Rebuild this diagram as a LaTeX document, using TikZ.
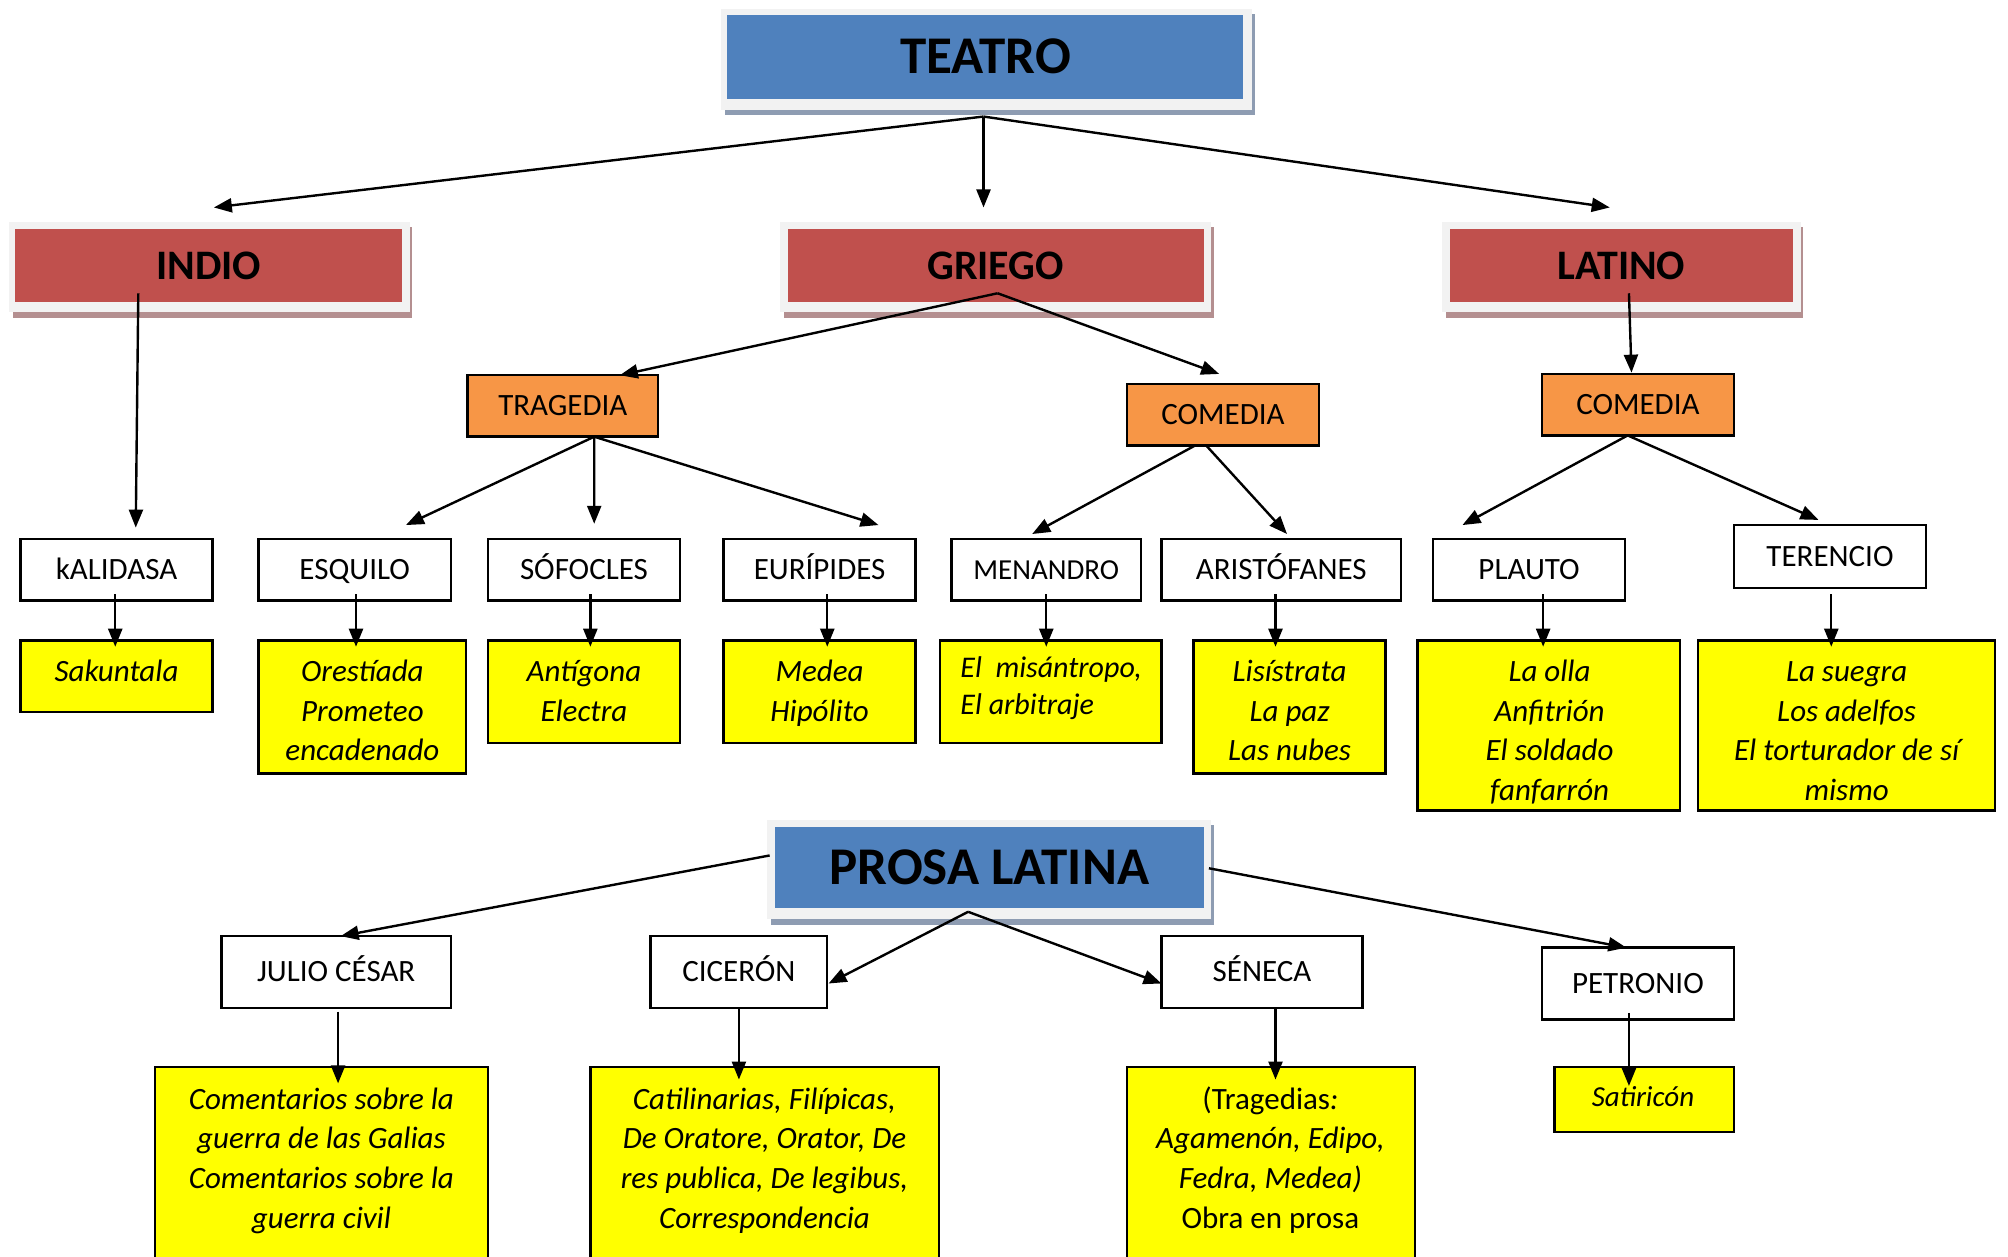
\documentclass[tikz,border=0pt]{standalone}
\usepackage{fontspec}
\setmainfont{Carlito}
\usetikzlibrary{arrows.meta,calc}
\definecolor{hblue}{HTML}{4F81BD}
\definecolor{hred}{HTML}{C0504D}
\definecolor{horange}{HTML}{F79646}
\definecolor{hyellow}{HTML}{FFFF00}
\definecolor{hframe}{HTML}{F2F2F2}
\definecolor{shblue}{HTML}{8E9CB2}
\definecolor{shred}{HTML}{B48F90}
\newcommand\topstrut{\rule{0pt}{30pt}}
% box: #1 style, #2 name, #3 x1, #4 y1, #5 x2, #6 y2, #7 text
\newcommand\bx[7]{\node[#1,minimum width={(#5-#3)*1.2806pt},minimum height={(#6-#4)*1.2806pt}] (#2) at ({(#3+#5)/2},{(#4+#6)/2}) {#7};}
% #1 from node, #2 to node, #3 dx, #4 dy at start, #5 dy at end, #6 coordinate name
\newcommand\downarr[6]{%
  \path ($(#1.south)+(#3,#4)$) coordinate (#6s);
  \path (#6s |- #2.north) coordinate (#6n);
  \draw[arr] (#6s) -- ($(#6n)+(0,#5)$);}
\begin{document}
\begin{tikzpicture}[x=1.2806pt,y=-1.2806pt,
  every node/.style={inner sep=0pt,outer sep=0pt},
  arr/.style={line width=2.4pt,-{Triangle[length=18pt,width=14pt]}},
  wbox/.style={draw=black,line width=2.4pt,fill=white,font=\fontsize{31}{38}\selectfont,text height=20pt,text depth=0pt},
  obox/.style={wbox,fill=horange},
  ybox/.style={draw=black,line width=2.4pt,fill=hyellow},
  ytext/.style={align=center,anchor=north,font=\fontsize{31}{39.7}\itshape\selectfont},
  hbox/.style={fill=#1,font=\fontsize{42}{50}\bfseries\selectfont,text height=27pt,text depth=0pt},
  tbox/.style={fill=hblue,font=\fontsize{53}{60}\bfseries\selectfont,text height=34pt,text depth=0pt}]
\useasboundingbox (0,0) rectangle (1568,981);
\fill[white] (0,0) rectangle (1568,981);
\begin{scope}
\clip (0,0) rectangle (1568,981);
% headline frames
\fill[shblue] (566,11) rectangle (980,90);
\fill[hframe] (563,7) rectangle (978,86);
\bx{tbox}{teatro}{568}{12}{971}{77}{TEATRO}
\fill[shred] (10,177) rectangle (322,248);
\fill[hframe] (7,173) rectangle (320,244);
\bx{hbox=hred}{indio}{12}{179}{314}{236}{INDIO}
\fill[shred] (612,177) rectangle (948,248);
\fill[hframe] (609,173) rectangle (946,244);
\bx{hbox=hred}{griego}{615}{179}{940}{236}{GRIEGO}
\fill[shred] (1129,177) rectangle (1408,248);
\fill[hframe] (1126,173) rectangle (1406,244);
\bx{hbox=hred}{latino}{1132}{179}{1400}{236}{LATINO}
\fill[shblue] (602,644) rectangle (948,722);
\fill[hframe] (599,640) rectangle (946,718);
\bx{tbox}{prosa}{605}{646}{940}{709}{PROSA LATINA}
% orange
\bx{obox}{trag}{365}{293}{514}{341}{TRAGEDIA}
\bx{obox}{comg}{880}{300}{1030}{348}{COMEDIA}
\bx{obox}{coml}{1204}{292}{1354}{340}{COMEDIA}
% white
\bx{wbox}{kal}{16}{421}{166}{469}{kALIDASA}
\bx{wbox}{esq}{202}{421}{352}{469}{ESQUILO}
\bx{wbox}{sof}{381}{421}{531}{469}{SÓFOCLES}
\bx{wbox}{eur}{565}{421}{715}{469}{EURÍPIDES}
\bx{wbox,font=\fontsize{29}{36}\selectfont}{men}{743}{421}{891}{469}{MENANDRO}
\bx{wbox}{ari}{907}{421}{1094}{469}{ARISTÓFANES}
\bx{wbox}{pla}{1119}{421}{1269}{469}{PLAUTO}
\bx{wbox}{ter}{1354}{410}{1504}{459}{TERENCIO}
% yellow row 1
\bx{ybox}{ysak}{16}{500}{166}{556}{}
\bx{ybox}{yesq}{202}{500}{364}{604}{}
\bx{ybox}{ysof}{381}{500}{531}{580}{}
\bx{ybox}{yeur}{565}{500}{715}{580}{}
\bx{ybox}{ymen}{734}{500}{907}{580}{}
\bx{ybox}{yari}{932}{500}{1082}{604}{}
\bx{ybox}{ypla}{1107}{500}{1312}{633}{}
\bx{ybox}{yter}{1326}{500}{1558}{633}{}
\node[ytext] (tsak) at (91,508.6) {\topstrut Sakuntala};
\node[ytext] (tesq) at (283,508.6) {\topstrut Orestíada\\Prometeo\\encadenado};
\node[ytext] (tsof) at (456,508.6) {\topstrut Antígona\\Electra};
\node[ytext] (teur) at (640,508.6) {\topstrut Medea\\Hipólito};
\node[ytext,align=left,anchor=north west,font=\fontsize{30}{37.1}\itshape\selectfont] (tmen) at (750,505.9) {\topstrut El\ \ misántropo,\\El arbitraje};
\node[ytext] (tari) at (1007,508.6) {\topstrut Lisístrata\\La paz\\Las nubes};
\node[ytext] (tpla) at (1210,508.6) {\topstrut La olla\\Anfitrión\\El soldado\\fanfarrón};
\node[ytext] (tter) at (1442,508.6) {\topstrut La suegra\\Los adelfos\\El torturador de sí\\mismo};
% bottom
\bx{wbox}{jul}{173}{731}{352}{787}{JULIO CÉSAR}
\bx{wbox}{cic}{508}{731}{646}{787}{CICERÓN}
\bx{wbox}{sen}{907}{731}{1064}{787}{SÉNECA}
\bx{wbox}{pet}{1204}{740}{1354}{796}{PETRONIO}
\bx{ybox}{yjul}{121}{833}{381}{995}{}
\bx{ybox}{ycic}{461}{833}{733}{995}{}
\bx{ybox}{ysen}{880}{833}{1105}{995}{}
\bx{ybox}{ypet}{1214}{833}{1354}{884}{}
\node[ytext] (tjul) at (251,842.6) {\topstrut Comentarios sobre la\\guerra de las Galias\\Comentarios sobre la\\guerra civil};
\node[ytext] (tcic) at (597,842.6) {\topstrut Catilinarias, Filípicas,\\De Oratore, Orator, De\\res publica, De legibus,\\Correspondencia};
\node[ytext] (tsen) at (992,842.6) {\topstrut\upshape(Tragedias\textit{:}\\Agamenón, Edipo,\\Fedra, Medea)\\\upshape Obra en prosa};
\node[ytext,font=\fontsize{29}{37}\itshape\selectfont] (tpet) at (1283,840.6) {\topstrut Satiricón};
% arrows from TEATRO
\coordinate (ts) at ($(teatro.south)+(-1.5,14)$);
\draw[arr] (ts) -- ($(indio.north)+(4,-17)$);
\draw[arr] (ts) -- ($(griego.north)+(-9.5,-17)$);
\draw[arr] (ts) -- ($(latino.north)+(-9,-17)$);
% INDIO
\draw[arr] ($(indio.south)+(-55,-7)$) -- ($(kal.north)+(15,-9)$);
% GRIEGO
\coordinate (gs) at ($(griego.south)+(1.5,-7)$);
\draw[arr] (gs) -- ($(trag.north)+(44.5,0)$);
\draw[arr] (gs) -- ($(comg.north)+(-3,-8)$);
% LATINO
\draw[arr] ($(latino.south)+(6,-7)$) -- ($(coml.north)+(-5,-1)$);
% TRAGEDIA
\coordinate (trs) at ($(trag.south)+(24.5,0)$);
\draw[arr] (trs) -- ($(esq.north)+(40,-11)$);
\draw[arr] (trs) -- ($(sof.north)+(8,-12)$);
\draw[arr] (trs) -- ($(eur.north)+(46,-11)$);
% COMEDIA griega
\draw[arr] ($(comg.south)+(-22,0)$) -- ($(men.north)+(-11,-4)$);
\draw[arr] ($(comg.south)+(-13,0)$) -- ($(ari.north)+(4.5,-4)$);
% COMEDIA latina
\coordinate (cls) at ($(coml.south)+(-8,0)$);
\draw[arr] (cls) -- ($(pla.north)+(-52,-11)$);
\draw[arr] (cls) -- ($(ter.north)+(-9,-4)$);
% down arrows row 1
\downarr{kal}{ysak}{-1}{-5}{5}{d1}
\downarr{esq}{yesq}{1}{-5}{5}{d2}
\downarr{sof}{ysof}{5}{-5}{5}{d3}
\downarr{eur}{yeur}{6}{-5}{5}{d4}
\downarr{men}{ymen}{0}{-5}{5}{d5}
\downarr{ari}{yari}{-4.5}{-5}{5}{d6}
\downarr{pla}{ypla}{11}{-5}{5}{d7}
\downarr{ter}{yter}{1}{5}{5}{d8}
% PROSA LATINA
\coordinate (ps) at ($(prosa.south)+(-16.5,3)$);
\draw[arr] ($(prosa.west)+(-4,-9.5)$) -- ($(jul.north)+(3.5,0)$);
\draw[arr] (ps) -- ($(cic.east)+(1,9)$);
\draw[arr] (ps) -- ($(sen.west)+(0,9)$);
\draw[arr] ($(prosa.east)+(4,0.5)$) -- ($(pet.north)+(-9,0)$);
\downarr{jul}{yjul}{1.5}{3}{13}{e1}
\downarr{cic}{ycic}{0}{0}{10}{e2}
\downarr{sen}{ysen}{10.5}{0}{10}{e3}
\downarr{pet}{ypet}{-7}{-5}{15}{e4}
\end{scope}
\end{tikzpicture}
\end{document}
